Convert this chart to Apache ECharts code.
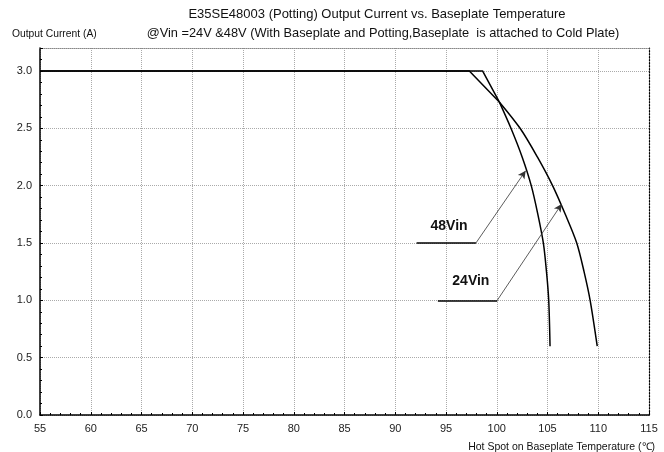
<!DOCTYPE html>
<html>
<head>
<meta charset="utf-8">
<style>
  html, body { margin: 0; padding: 0; background: #fff; }
  #container { width: 664px; height: 452px; }
</style>
<script src="https://cdn.jsdelivr.net/npm/echarts@6/dist/echarts.min.js"></script>
</head>
<body>
<div id="container"></div>
<script>
var dom = document.getElementById('container');
var myChart = echarts.init(dom, null, { renderer: 'canvas' });

// 24Vin derating curve (temperature, current)
const temp24 = [55, 97.3, 100.25, 102.3, 104.0, 105.5, 106.75, 107.88, 108.6, 109.2, 109.9];
const cur24  = [3.0, 3.0, 2.73, 2.5, 2.25, 2.0, 1.75, 1.5, 1.25, 1.0, 0.6];

// 48Vin derating curve
const temp48 = [55, 98.6, 100.25, 101.4, 102.5, 103.4, 104.05, 104.59, 104.9, 105.12, 105.25];
const cur48  = [3.0, 3.0, 2.73, 2.5, 2.25, 2.0, 1.75, 1.5, 1.25, 1.0, 0.6];

// callouts: label position, leader start, leader elbow, arrow tip
const labels48 = { text: '48Vin', at: [95.3, 1.65], from: [92.1, 1.5], elbow: [97.95, 1.5], tip: [102.85, 2.13] };
const labels24 = { text: '24Vin', at: [97.45, 1.17], from: [94.2, 1.0], elbow: [100.05, 1.0], tip: [106.4, 1.84] };

const xTicks = { min: 55, max: 115, step: 5 };
const yTicks = { min: 0, max: 3.2, step: 0.5 };

const font = 'Liberation Sans, Arial, sans-serif';

function zip(xs, ys) {
  return xs.map((x, i) => [x, ys[i]]);
}

// flat part + straight drop to the crossing point is drawn straight, the rest smoothed
function curve(name, xs, ys, c) {
  const pts = zip(xs, ys);
  const straight = {
    name: name,
    type: 'line',
    data: pts.slice(0, 3),
    symbol: 'none',
    lineStyle: { color: '#000', width: 1.5 }
  };
  const bent = Object.assign({
    name: name,
    type: 'line',
    data: pts.slice(2),
    symbol: 'none',
    smooth: 0.3,
    lineStyle: { color: '#000', width: 1.5 }
  }, callout(c));
  return [straight, bent];
}

function callout(c) {
  return {
    markLine: {
      silent: true,
      animation: false,
      label: { show: false },
      data: [
        [
          { coord: c.from, symbol: 'none', lineStyle: { color: '#000', width: 1.5, type: 'solid' } },
          { coord: c.elbow, symbol: 'none' }
        ],
        [
          { coord: c.elbow, symbol: 'none', lineStyle: { color: '#333', width: 0.8, type: 'solid' } },
          { coord: c.tip, symbol: 'arrow', symbolSize: [6, 8] }
        ]
      ]
    },
    markPoint: {
      silent: true,
      animation: false,
      symbol: 'circle',
      symbolSize: 0,
      data: [{ coord: c.at, value: c.text }],
      label: {
        show: true,
        position: 'inside',
        formatter: c.text,
        color: '#111',
        fontSize: 14,
        fontWeight: 'bold',
        fontFamily: font
      }
    }
  };
}

var option = {
  animation: false,
  textStyle: { fontFamily: font },
  title: [
    {
      text: 'E35SE48003 (Potting) Output Current vs. Baseplate Temperature',
      left: 377, top: 8, padding: 0, textAlign: 'center',
      textStyle: { fontSize: 13, fontWeight: 'normal', color: '#111', fontFamily: font }
    },
    {
      text: '@Vin =24V &48V (With Baseplate and Potting,Baseplate  is attached to Cold Plate)',
      left: 383, top: 27, padding: 0, textAlign: 'center',
      textStyle: { fontSize: 12.8, fontWeight: 'normal', color: '#111', fontFamily: font }
    },
    {
      text: 'Output Current (A)',
      left: 12, top: 29, padding: 0,
      textStyle: { fontSize: 10.3, fontWeight: 'normal', color: '#111', fontFamily: font }
    },
    {
      text: 'Hot Spot on Baseplate Temperature (℃)',
      right: 9, top: 442, padding: 0,
      textStyle: { fontSize: 10.5, fontWeight: 'normal', color: '#111', fontFamily: font }
    }
  ],
  grid: { left: 40, right: 15, top: 48, bottom: 37, containLabel: false },
  xAxis: [
    {
      type: 'value',
      min: xTicks.min, max: xTicks.max, interval: xTicks.step,
      axisLine: { show: true, onZero: false, lineStyle: { color: '#000', width: 1.5 } },
      axisTick: { show: true, inside: true, length: 3, lineStyle: { color: '#000' } },
      minorTick: { show: true, splitNumber: 5, length: 2, lineStyle: { color: '#000' } },
      axisLabel: { color: '#222', fontSize: 11, margin: 8 },
      splitLine: { show: true, lineStyle: { color: '#aaa', type: [1, 1], width: 1 } }
    },
    {
      type: 'value', position: 'top',
      min: xTicks.min, max: xTicks.max, interval: xTicks.step,
      axisLine: { show: true, onZero: false, lineStyle: { color: '#888', type: [1, 1], width: 1 } },
      axisTick: { show: false }, axisLabel: { show: false }, splitLine: { show: false }
    }
  ],
  yAxis: [
    {
      type: 'value',
      min: yTicks.min, max: yTicks.max, interval: yTicks.step,
      axisLine: { show: true, onZero: false, lineStyle: { color: '#000', width: 1.5 } },
      axisTick: { show: true, inside: true, length: 3, lineStyle: { color: '#000' } },
      minorTick: { show: true, splitNumber: 5, length: 2, lineStyle: { color: '#000' } },
      axisLabel: {
        color: '#222', fontSize: 11, margin: 8,
        formatter: v => (Math.abs(v * 2 - Math.round(v * 2)) < 1e-6 ? v.toFixed(1) : '')
      },
      splitLine: { show: true, lineStyle: { color: '#aaa', type: [1, 1], width: 1 } }
    },
    {
      type: 'value', position: 'right',
      min: yTicks.min, max: yTicks.max, interval: yTicks.step,
      axisLine: { show: true, onZero: false, lineStyle: { color: '#000', type: [1.5, 1.5], width: 1.2 } },
      axisTick: { show: false }, axisLabel: { show: false }, splitLine: { show: false }
    }
  ],
  series: [].concat(
    curve('24Vin', temp24, cur24, labels24),
    curve('48Vin', temp48, cur48, labels48)
  )
};

myChart.setOption(option);
window.addEventListener('resize', myChart.resize);
</script>
</body>
</html>
